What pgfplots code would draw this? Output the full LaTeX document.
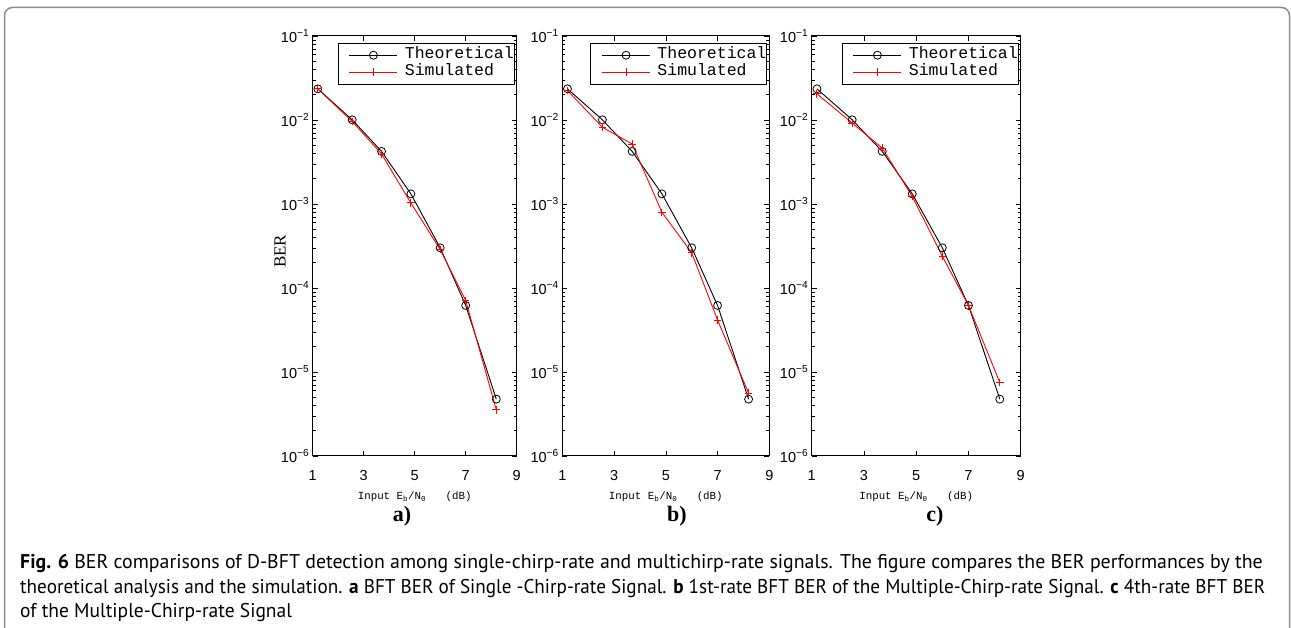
\documentclass[border=0pt]{standalone}
\usepackage{pgfplots}
\usepackage{pgfplotstable}
\usepackage{graphicx}
\pgfplotsset{compat=1.18}
\usepackage{fontspec}
\setmainfont{Liberation Sans}
\newfontfamily\capfont{PT Sans}
\newfontfamily\monofont{Liberation Mono}
\newfontfamily\seriffont{Liberation Serif}

% x values (Eb/N0, dB) shared by all panels
\pgfplotstableread{
x     theo     sima     simb     simc
1.2   0.0235   0.0235   0.0224   0.0205
2.55  0.01005  0.0096   0.0082   0.0092
3.7   0.00423  0.00394  0.00518  0.00463
4.85  0.00132  0.00103  0.000796 0.00123
6.0   3.01e-4  2.87e-4  2.63e-4  2.39e-4
7.0   6.2e-5   7.1e-5   4.16e-5  6.2e-5
8.2   4.75e-6  3.55e-6  5.6e-6   7.5e-6
}\bertable

\pgfplotsset{
  every axis/.append style={
    scale only axis, height=420pt,
    ymin=1e-6, ymax=1e-1,
    xmin=1, xmax=9, xtick={1,3,5,7,9}, xticklabels={1,3,5,7,9},
    ytick={1e-6,1e-5,1e-4,1e-3,1e-2,1e-1},
    yticklabels={10\textsuperscript{−6},10\textsuperscript{−5},10\textsuperscript{−4},10\textsuperscript{−3},10\textsuperscript{−2},10\textsuperscript{−1}},
    tick pos=both, tick align=inside,
    major tick length=5pt, minor tick length=3pt,
    axis line style={line width=1pt},
    tick style={black, line width=0.6pt},
    xlabel={Input E\textsubscript{b}/N\textsubscript{0}~~~(dB)},
    xlabel style={at={(axis description cs:0.5,0)}, yshift=-41pt, anchor=center, font=\monofont\fontsize{10.8}{12}\selectfont},
    legend style={at={(1,1)}, xshift=-2.7pt, yshift=-7pt, anchor=north east,
      font=\monofont\fontsize{16.5}{17}\selectfont,
      inner xsep=0pt, inner ysep=4.5pt, row sep=2pt,
      nodes={inner sep=0pt, text height=11pt, text depth=4pt}},
    legend cell align=left,
  },
  legend image code/.code={\path (-11pt,0pt) (55pt,0pt);
    \draw[mark repeat=2,mark phase=2,#1] plot coordinates {(0pt,0pt)(24pt,0pt)(48pt,0pt)};},
}

\begin{document}
\begin{tikzpicture}
\useasboundingbox (0,0) rectangle (1291pt,628pt);
\draw[black!45, line width=1.5pt] (4.5pt,-5pt) -- (4.5pt,612.5pt) arc[start angle=180,end angle=90,radius=8pt] -- (1281.5pt,620.5pt) arc[start angle=90,end angle=0,radius=8pt] -- (1289.5pt,-5pt);

\begin{semilogyaxis}[at={(312.7pt,172pt)}, anchor=south west, width=204pt,
  xticklabel style={font=\fontsize{14.5}{14.5}\selectfont, anchor=center, yshift=-20pt},
  yticklabel style={font=\fontsize{14.5}{14.5}\selectfont},
  ylabel={BER},
  ylabel style={at={(axis description cs:-0.16,0.487)}, anchor=center, font=\seriffont\fontsize{17}{17}\selectfont}]
\addplot[black, line width=0.9pt, mark=o, mark size=4pt, mark options={line width=0.8pt}] table[x=x,y=theo] {\bertable};
\addlegendentry{Theoretical}
\addplot[red, line width=0.9pt, mark=+, mark size=3.8pt, mark options={line width=0.9pt}] table[x=x,y=sima] {\bertable};
\addlegendentry{Simulated}
\end{semilogyaxis}

\begin{semilogyaxis}[at={(562.3pt,172pt)}, anchor=south west, width=207pt,
  xticklabel style={font=\fontsize{14.5}{14.5}\selectfont, anchor=center, yshift=-20pt},
  yticklabel style={font=\fontsize{14.5}{14.5}\selectfont}]
\addplot[black, line width=0.9pt, mark=o, mark size=4pt, mark options={line width=0.8pt}] table[x=x,y=theo] {\bertable};
\addlegendentry{Theoretical}
\addplot[red, line width=0.9pt, mark=+, mark size=3.8pt, mark options={line width=0.9pt}] table[x=x,y=simb] {\bertable};
\addlegendentry{Simulated}
\end{semilogyaxis}

\begin{semilogyaxis}[at={(811.7pt,172pt)}, anchor=south west, width=209pt,
  xticklabel style={font=\fontsize{14.5}{14.5}\selectfont, anchor=center, yshift=-20pt},
  yticklabel style={font=\fontsize{14.5}{14.5}\selectfont}]
\addplot[black, line width=0.9pt, mark=o, mark size=4pt, mark options={line width=0.8pt}] table[x=x,y=theo] {\bertable};
\addlegendentry{Theoretical}
\addplot[red, line width=0.9pt, mark=+, mark size=3.8pt, mark options={line width=0.9pt}] table[x=x,y=simc] {\bertable};
\addlegendentry{Simulated}
\end{semilogyaxis}

\node[font=\seriffont\bfseries\fontsize{22}{22}\selectfont] at (402pt,112pt) {a)};
\node[font=\seriffont\bfseries\fontsize{22}{22}\selectfont] at (677pt,112pt) {b)};
\node[font=\seriffont\bfseries\fontsize{22}{22}\selectfont] at (935pt,112pt) {c)};

\node[anchor=base west, inner sep=0, font=\capfont\fontsize{19.9}{24}\selectfont] at (20pt,59pt)
  {\scalebox{0.997}[1]{\textbf{Fig. 6} BER comparisons of D-BFT detection among single-chirp-rate and multichirp-rate signals. The figure compares the BER performances by the}};
\node[anchor=base west, inner sep=0, font=\capfont\fontsize{19.9}{24}\selectfont] at (20pt,34pt)
  {\scalebox{0.964}[1]{theoretical analysis and the simulation. \textbf{a} BFT BER of Single -Chirp-rate Signal. \textbf{b} 1st-rate BFT BER of the Multiple-Chirp-rate Signal. \textbf{c} 4th-rate BFT BER}};
\node[anchor=base west, inner sep=0, font=\capfont\fontsize{19.9}{24}\selectfont] at (20pt,10pt)
  {\scalebox{0.98}[1]{of the Multiple-Chirp-rate Signal}};
\end{tikzpicture}
\end{document}
